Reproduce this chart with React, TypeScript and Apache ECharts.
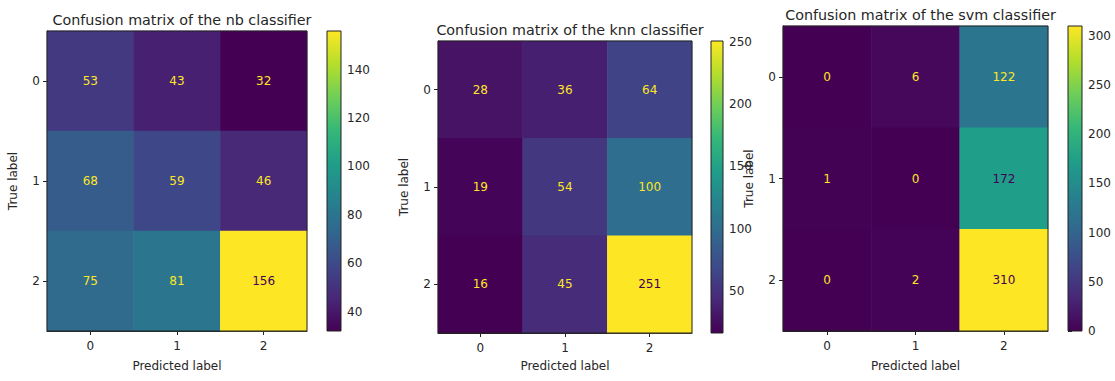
import React, { useEffect, useRef } from "react";
import * as echarts from "echarts";

const labels = ["0", "1", "2"];
const titles = [
  "Confusion matrix of the nb classifier",
  "Confusion matrix of the knn classifier",
  "Confusion matrix of the svm classifier",
];
const nbMatrix = [
  [53, 43, 32],
  [68, 59, 46],
  [75, 81, 156],
];
const knnMatrix = [
  [28, 36, 64],
  [19, 54, 100],
  [16, 45, 251],
];
const svmMatrix = [
  [0, 6, 122],
  [1, 0, 172],
  [0, 2, 310],
];
const nbTicks = [40, 60, 80, 100, 120, 140];
const knnTicks = [50, 100, 150, 200, 250];
const svmTicks = [0, 50, 100, 150, 200, 250, 300];

const viridis = [
  "#440154", "#482878", "#3e4989", "#31688e", "#26828e",
  "#1f9e89", "#35b779", "#6ece58", "#b5de2b", "#fde725",
];

const panels = [
  { m: nbMatrix, ticks: nbTicks, grid: { left: 47, top: 31, width: 260, height: 300 }, cb: { left: 327, top: 31, width: 14, height: 300 }, titleY: 8, nameGapY: 29 },
  { m: knnMatrix, ticks: knnTicks, grid: { left: 438, top: 41, width: 254, height: 292 }, cb: { left: 711, top: 41, width: 12, height: 292 }, titleY: 18, nameGapY: 27 },
  { m: svmMatrix, ticks: svmTicks, grid: { left: 783, top: 26, width: 265, height: 305 }, cb: { left: 1068, top: 26, width: 14, height: 305 }, titleY: 3, nameGapY: 29 },
];

const FONT = "DejaVu Sans";
const TXT = "#262626";
const FS = 12;

export default function App() {
  const ref = useRef<HTMLDivElement>(null);
  useEffect(() => {
    document.body.style.margin = "0";
    const chart = echarts.init(ref.current!, null, { renderer: "svg" });
    const grids: any[] = [];
    const xAxes: any[] = [];
    const yAxes: any[] = [];
    const series: any[] = [];
    const visualMaps: any[] = [];
    const title: any[] = [];
    panels.forEach((p, i) => {
      const flat = p.m.flat();
      const lo = Math.min(...flat);
      const hi = Math.max(...flat);
      const mid = (lo + hi) / 2;
      const gi = grids.length;
      grids.push({ ...p.grid, show: true, borderColor: "#222", borderWidth: 1, backgroundColor: "transparent", z: 10 });
      grids.push({ ...p.cb, show: false });
      title.push({
        text: titles[i],
        left: p.grid.left + p.grid.width / 2,
        top: p.titleY,
        textAlign: "center",
        textStyle: { fontFamily: FONT, fontSize: 14.3, fontWeight: "normal", color: TXT },
      });
      xAxes.push({
        type: "category", gridIndex: gi, data: labels,
        name: "Predicted label", nameLocation: "middle", nameGap: p.nameGapY,
        nameTextStyle: { fontFamily: FONT, fontSize: FS, color: TXT },
        axisLine: { show: true, lineStyle: { color: "#222" } },
        axisTick: { show: true, alignWithLabel: true, length: 4, lineStyle: { color: "#222" } },
        axisLabel: { fontFamily: FONT, fontSize: FS, color: TXT, margin: 9 },
        splitLine: { show: false },
      });
      yAxes.push({
        type: "category", gridIndex: gi, data: labels, inverse: true,
        name: "True label", nameLocation: "middle", nameGap: 28, nameRotate: 90,
        nameTextStyle: { fontFamily: FONT, fontSize: FS, color: TXT },
        axisLine: { show: true, lineStyle: { color: "#222" } },
        axisTick: { show: true, alignWithLabel: true, length: 4, lineStyle: { color: "#222" } },
        axisLabel: { fontFamily: FONT, fontSize: FS, color: TXT, margin: 7 },
        splitLine: { show: false },
      });
      xAxes.push({ type: "value", gridIndex: gi + 1, min: 0, max: 1, show: false });
      yAxes.push({
        type: "value", gridIndex: gi + 1, min: lo, max: hi, position: "right",
        axisLine: { show: false },
        axisTick: { show: true, length: 4, customValues: p.ticks, lineStyle: { color: "#222" } },
        axisLabel: { fontFamily: FONT, fontSize: FS, color: TXT, margin: 6, customValues: p.ticks },
        splitLine: { show: false },
      });
      const data: any[] = [];
      p.m.forEach((row, r) =>
        row.forEach((v, c) => {
          data.push({
            value: [c, r, v],
            label: { color: v < mid ? viridis[9] : viridis[0] },
          });
        })
      );
      const si = series.length;
      series.push({
        type: "heatmap", xAxisIndex: gi, yAxisIndex: gi, data,
        label: { show: true, fontFamily: FONT, fontSize: FS },
        itemStyle: { borderWidth: 0 },
      });
      visualMaps.push({
        type: "continuous", show: false, seriesIndex: si, dimension: 2,
        min: lo, max: hi, inRange: { color: viridis },
      });
      series.push({
        type: "custom", xAxisIndex: gi + 1, yAxisIndex: gi + 1,
        data: [[0, lo, hi]], encode: { x: 0, y: [1, 2] },
        renderItem: (params: any, api: any) => {
          const top = api.coord([0, api.value(2)]);
          const bot = api.coord([0, api.value(1)]);
          const cs = params.coordSys;
          return {
            type: "rect",
            shape: { x: cs.x, y: top[1], width: cs.width, height: bot[1] - top[1] },
            style: {
              fill: new echarts.graphic.LinearGradient(0, 0, 0, 1,
                viridis.slice().reverse().map((c, k) => ({ offset: k / 9, color: c }))),
              stroke: "#222", lineWidth: 1,
            },
          };
        },
      });
    });
    chart.setOption({
      animation: false,
      backgroundColor: "#fff",
      title, grid: grids, xAxis: xAxes, yAxis: yAxes, visualMap: visualMaps, series,
    });
    return () => chart.dispose();
  }, []);
  return <div ref={ref} style={{ width: 1115, height: 381 }} />;
}
